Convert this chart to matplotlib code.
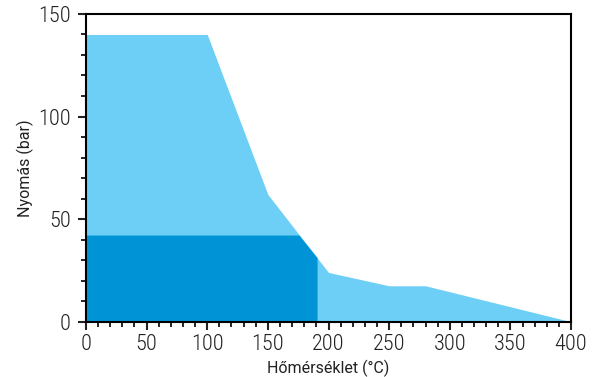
import matplotlib
matplotlib.use('Agg')
from matplotlib import pyplot as plt
from matplotlib import font_manager
from matplotlib.ticker import MultipleLocator

# outline of the whole operating range (light area)
range_t = [0, 100, 150, 200, 250, 280, 400]
range_p = [140, 140, 62, 24, 17.5, 17.5, 0]

# outline of the inner area (dark)
inner_t = [0, 0, 176, 191, 191]
inner_p = [0, 42, 42, 31, 0]

light = '#6dcff5'
dark = '#0094d7'

names = set(f.name for f in font_manager.fontManager.ttflist)
tick_font = 'DejaVu Sans'
for cand in ['Liberation Sans Narrow', 'Roboto Condensed', 'DejaVu Sans Condensed', 'Open Sans Condensed']:
    if cand in names:
        tick_font = cand
        break

fig = plt.figure(figsize=(6, 3.77), dpi=100)
ax = fig.add_axes([0.1433, 0.1467, 0.8084, 0.8163])

ax.fill_between(range_t, range_p, 0, color=light, lw=0)
ax.fill(inner_t, inner_p, color=dark, lw=0)

ax.set_xlim(0, 400)
ax.set_ylim(0, 150)
ax.xaxis.set_major_locator(MultipleLocator(50))
ax.xaxis.set_minor_locator(MultipleLocator(10))
ax.yaxis.set_major_locator(MultipleLocator(50))
ax.yaxis.set_minor_locator(MultipleLocator(10))

for s in ax.spines.values():
    s.set_linewidth(1.5)
    s.set_color('black')

ax.tick_params(which='major', length=6, width=1.5, labelsize=16, colors='#222222')
ax.tick_params(axis='x', which='major', pad=3)
ax.tick_params(axis='y', which='major', pad=5)
ax.tick_params(which='minor', length=3.5, width=1.2)
for lab in ax.get_xticklabels() + ax.get_yticklabels():
    lab.set_family(tick_font)
    lab.set_stretch('condensed')
    lab.set_weight('light')

label_font = ['Roboto', 'DejaVu Sans']
ax.set_xlabel('Hőmérséklet (°C)', fontsize=11.5, color='#222222', family=label_font)
ax.set_ylabel('Nyomás (bar)', fontsize=11.5, color='#222222', family=label_font)
ax.xaxis.set_label_coords(0.5, -0.122)
ax.yaxis.set_label_coords(-0.108, 0.5)

fig.savefig('out.png', dpi=100)
